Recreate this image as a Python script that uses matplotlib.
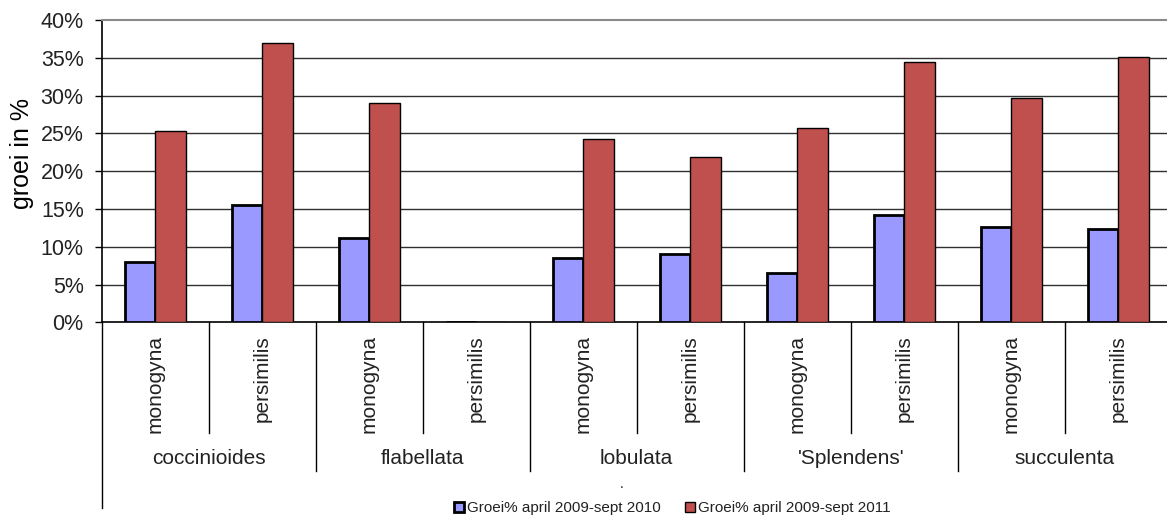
import matplotlib
matplotlib.use("Agg")
import matplotlib.pyplot as plt
import matplotlib.transforms as mtransforms
from matplotlib.ticker import FuncFormatter
import numpy as np

plt.rcParams['font.family'] = ['Liberation Sans', 'DejaVu Sans']

groups = ["coccinioides", "flabellata", "lobulata", "'Splendens'", "succulenta"]
subcats = ["monogyna", "persimilis"]
series_names = ["Groei% april 2009-sept 2010", "Groei% april 2009-sept 2011"]
groei_2010 = [8.0, 15.5, 11.1, 0.0, 8.5, 9.0, 6.5, 14.2, 12.6, 12.4]
groei_2011 = [25.3, 37.0, 29.0, 0.0, 24.2, 21.9, 25.7, 34.4, 29.7, 35.1]
yticks = [0, 5, 10, 15, 20, 25, 30, 35, 40]

TEXT = "#222222"
W, H = 1167, 517
fig = plt.figure(figsize=(W / 100, H / 100), dpi=100)
ax_left, ax_bottom = 101.7 / W, 1 - 322.3 / H
ax_top = 1 - 20 / H
ax = fig.add_axes([ax_left, ax_bottom, 1 - ax_left, ax_top - ax_bottom])

n = len(groei_2010)
x = np.arange(n) + 0.5
bw = 0.285
ax.bar(x - bw / 2, groei_2010, width=bw, color="#9999FF", edgecolor="black",
       linewidth=2.0, zorder=3, label=series_names[0])
ax.bar(x + bw / 2, groei_2011, width=bw, color="#C0504D", edgecolor="black",
       linewidth=1.0, zorder=3, label=series_names[1])

ax.set_xlim(0, (W - 101.7) / 107.0)
ax.set_ylim(0, 40)
ax.set_yticks(yticks)
ax.yaxis.set_major_formatter(FuncFormatter(lambda v, p: f"{int(v)}%"))
ax.tick_params(axis="y", direction="out", length=5, width=1, labelsize=15.5,
               color="black", labelcolor=TEXT, pad=8)
ax.set_xticks([])
for yv in yticks[1:-1]:
    ax.axhline(yv, color="#303030", linewidth=1.0, zorder=1)
ax.spines["top"].set_color("#8a8a8a")
ax.spines["top"].set_linewidth(1.5)
ax.spines["right"].set_visible(False)
ax.spines["left"].set_color("black")
ax.spines["bottom"].set_color("black")
ax.spines["left"].set_linewidth(1.2)
ax.spines["bottom"].set_linewidth(1.2)

ax.set_ylabel("groei in %", fontsize=18, color="black")
ax.yaxis.set_label_coords(-0.0636, 0.56)

# category axis below plot
tr = mtransforms.blended_transform_factory(ax.transData, fig.transFigure)
def fy(py):
    return 1 - py / H

y0 = fy(322.3)
ax.plot([0, 0], [y0, fy(508)], color="black", lw=1.0, transform=tr, clip_on=False)
for i in range(1, n):
    end = fy(471) if i % 2 == 0 else fy(433)
    ax.plot([i, i], [y0, end], color="black", lw=1.0, transform=tr, clip_on=False)

for i in range(n):
    ax.text(i + 0.5, fy(335), subcats[i % 2], rotation=90, ha="center", va="top",
            fontsize=15, color=TEXT, transform=tr)
for g, name in enumerate(groups):
    ax.text(2 * g + 1, fy(458), name, ha="center", va="center", fontsize=15,
            color=TEXT, transform=tr)

fig.text(622 / W, fy(484), ".", ha="center", va="center", fontsize=10, color=TEXT)

leg = fig.legend(loc="center", bbox_to_anchor=(672 / W, fy(508)), ncol=2, frameon=False,
                 fontsize=11, handlelength=0.65, handleheight=0.65, handletextpad=0.2,
                 columnspacing=1.6, borderpad=0)
for t in leg.get_texts():
    t.set_color(TEXT)

fig.savefig("out.png", dpi=100)
